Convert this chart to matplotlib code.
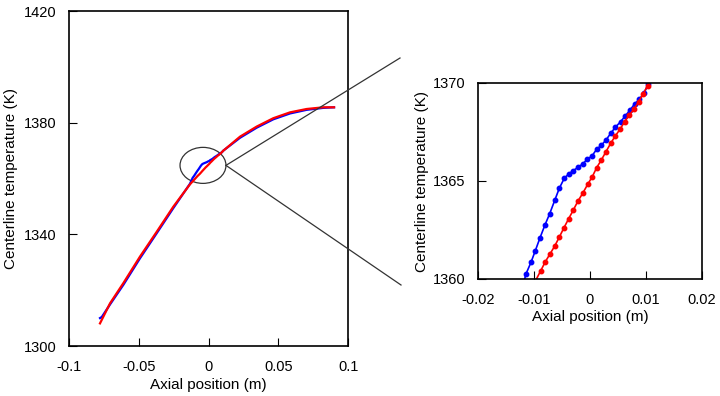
import matplotlib
matplotlib.use('Agg')
import matplotlib.pyplot as plt
from matplotlib.patches import Ellipse
from matplotlib.lines import Line2D
import numpy as np

plt.rcParams['font.family'] = ['Liberation Sans', 'DejaVu Sans']
plt.rcParams['font.size'] = 10.5
plt.rcParams['axes.labelsize'] = 11

# blue: coarse left part, zoomed region, coarse right part
blue_x = [-0.0778, -0.0765, -0.0706, -0.0611, -0.0492, -0.0372, -0.0253, -0.0134,
          -0.01143, -0.01054, -0.00977, -0.00893, -0.00804, -0.0072, -0.00625, -0.00548,
          -0.00459, -0.0038, -0.00298, -0.00214, -0.0013, -0.00048, 0.00036, 0.00119,
          0.00202, 0.00286, 0.00369, 0.00452, 0.00548, 0.0063, 0.00714, 0.00798,
          0.0088, 0.00964, 0.0104,
          0.0225, 0.0344, 0.0463, 0.0583, 0.0702, 0.0821, 0.0898]
blue_T = [1310.0, 1310.4, 1314.9, 1321.9, 1331.4, 1340.4, 1349.4, 1358.1,
          1360.26, 1360.85, 1361.44, 1362.1, 1362.76, 1363.33, 1364.05, 1364.63,
          1365.14, 1365.36, 1365.53, 1365.70, 1365.87, 1366.11, 1366.28, 1366.62,
          1366.82, 1367.09, 1367.43, 1367.74, 1368.03, 1368.32, 1368.62, 1368.93,
          1369.17, 1369.47, 1369.95,
          1374.6, 1378.2, 1381.2, 1383.3, 1384.6, 1385.3, 1385.5]

red_x = [-0.0778, -0.0706, -0.0611, -0.0492, -0.0372, -0.0253, -0.0134,
         -0.0088, -0.0080, -0.00714, -0.0063, -0.00546, -0.00464, -0.0038, -0.00298,
         -0.00214, -0.00125, -0.00041, 0.00041, 0.00119, 0.00202, 0.00286, 0.00369,
         0.00452, 0.00536, 0.0062, 0.00702, 0.00786, 0.0087, 0.0095, 0.0103,
         0.0225, 0.0344, 0.0463, 0.0583, 0.0702, 0.0821, 0.0898]
red_T = [1308.1, 1315.3, 1322.5, 1332.0, 1340.9, 1349.9, 1357.9,
         1360.42, 1360.87, 1361.28, 1361.68, 1362.15, 1362.62, 1363.08, 1363.52,
         1363.98, 1364.4, 1364.83, 1365.22, 1365.68, 1366.07, 1366.5, 1366.92,
         1367.3, 1367.64, 1368.03, 1368.37, 1368.66, 1369.05, 1369.45, 1369.87,
         1375.0, 1378.6, 1381.6, 1383.7, 1384.9, 1385.5, 1385.5]

# zoom circle on the left panel (data units)
zoom_center = (-0.00405, 1364.7)
zoom_w, zoom_h = 0.0329, 12.9

fig = plt.figure(figsize=(7.2, 3.96), dpi=100)
ax1 = fig.add_axes([69/720, 1-346/396, 279.3/720, 335/396])
ax2 = fig.add_axes([478/720, 1-279/396, 224/720, 196/396])

def style(ax):
    for s in ax.spines.values():
        s.set_linewidth(1.2)
    ax.tick_params(direction='in', top=False, right=False, length=6, width=0.8)
    ax.tick_params(axis='x', pad=10)
    ax.tick_params(axis='y', pad=9)

ax1.plot(blue_x, blue_T, color='blue', lw=1.6)
ax1.plot(red_x, red_T, color='red', lw=1.6)
ax1.set_xlim(-0.1, 0.1)
ax1.set_ylim(1300, 1420)
ax1.set_xticks([-0.1, -0.05, 0, 0.05, 0.1])
ax1.set_xticklabels(['-0.1', '-0.05', '0', '0.05', '0.1'])
ax1.set_yticks([1300, 1340, 1380, 1420])
ax1.set_xlabel('Axial position (m)', labelpad=3)
ax1.set_ylabel('Centerline temperature (K)', labelpad=4)
style(ax1)
ax1.add_patch(Ellipse(zoom_center, zoom_w, zoom_h, fill=False, ec='#333333', lw=0.9))

ax2.plot(blue_x, blue_T, color='blue', lw=1.2, marker='o', ms=3.2)
ax2.plot(red_x, red_T, color='red', lw=1.2, marker='o', ms=3.2)
ax2.set_xlim(-0.02, 0.02)
ax2.set_ylim(1360, 1370)
ax2.set_xticks([-0.02, -0.01, 0, 0.01, 0.02])
ax2.set_xticklabels(['-0.02', '-0.01', '0', '0.01', '0.02'])
ax2.set_yticks([1360, 1365, 1370])
ax2.set_xlabel('Axial position (m)', labelpad=2)
ax2.set_ylabel('Centerline temperature (K)', labelpad=3)
style(ax2)

# connector lines from the circle out towards the zoom panel
start = fig.transFigure.inverted().transform(
    ax1.transData.transform((zoom_center[0] + zoom_w / 2, zoom_center[1])))
for end in [(400/720, 1-58/396), (401/720, 1-285/396)]:
    fig.add_artist(Line2D([start[0], end[0]], [start[1], end[1]],
                          transform=fig.transFigure, color='#333333', lw=0.9))

fig.savefig('out.png', dpi=100)
